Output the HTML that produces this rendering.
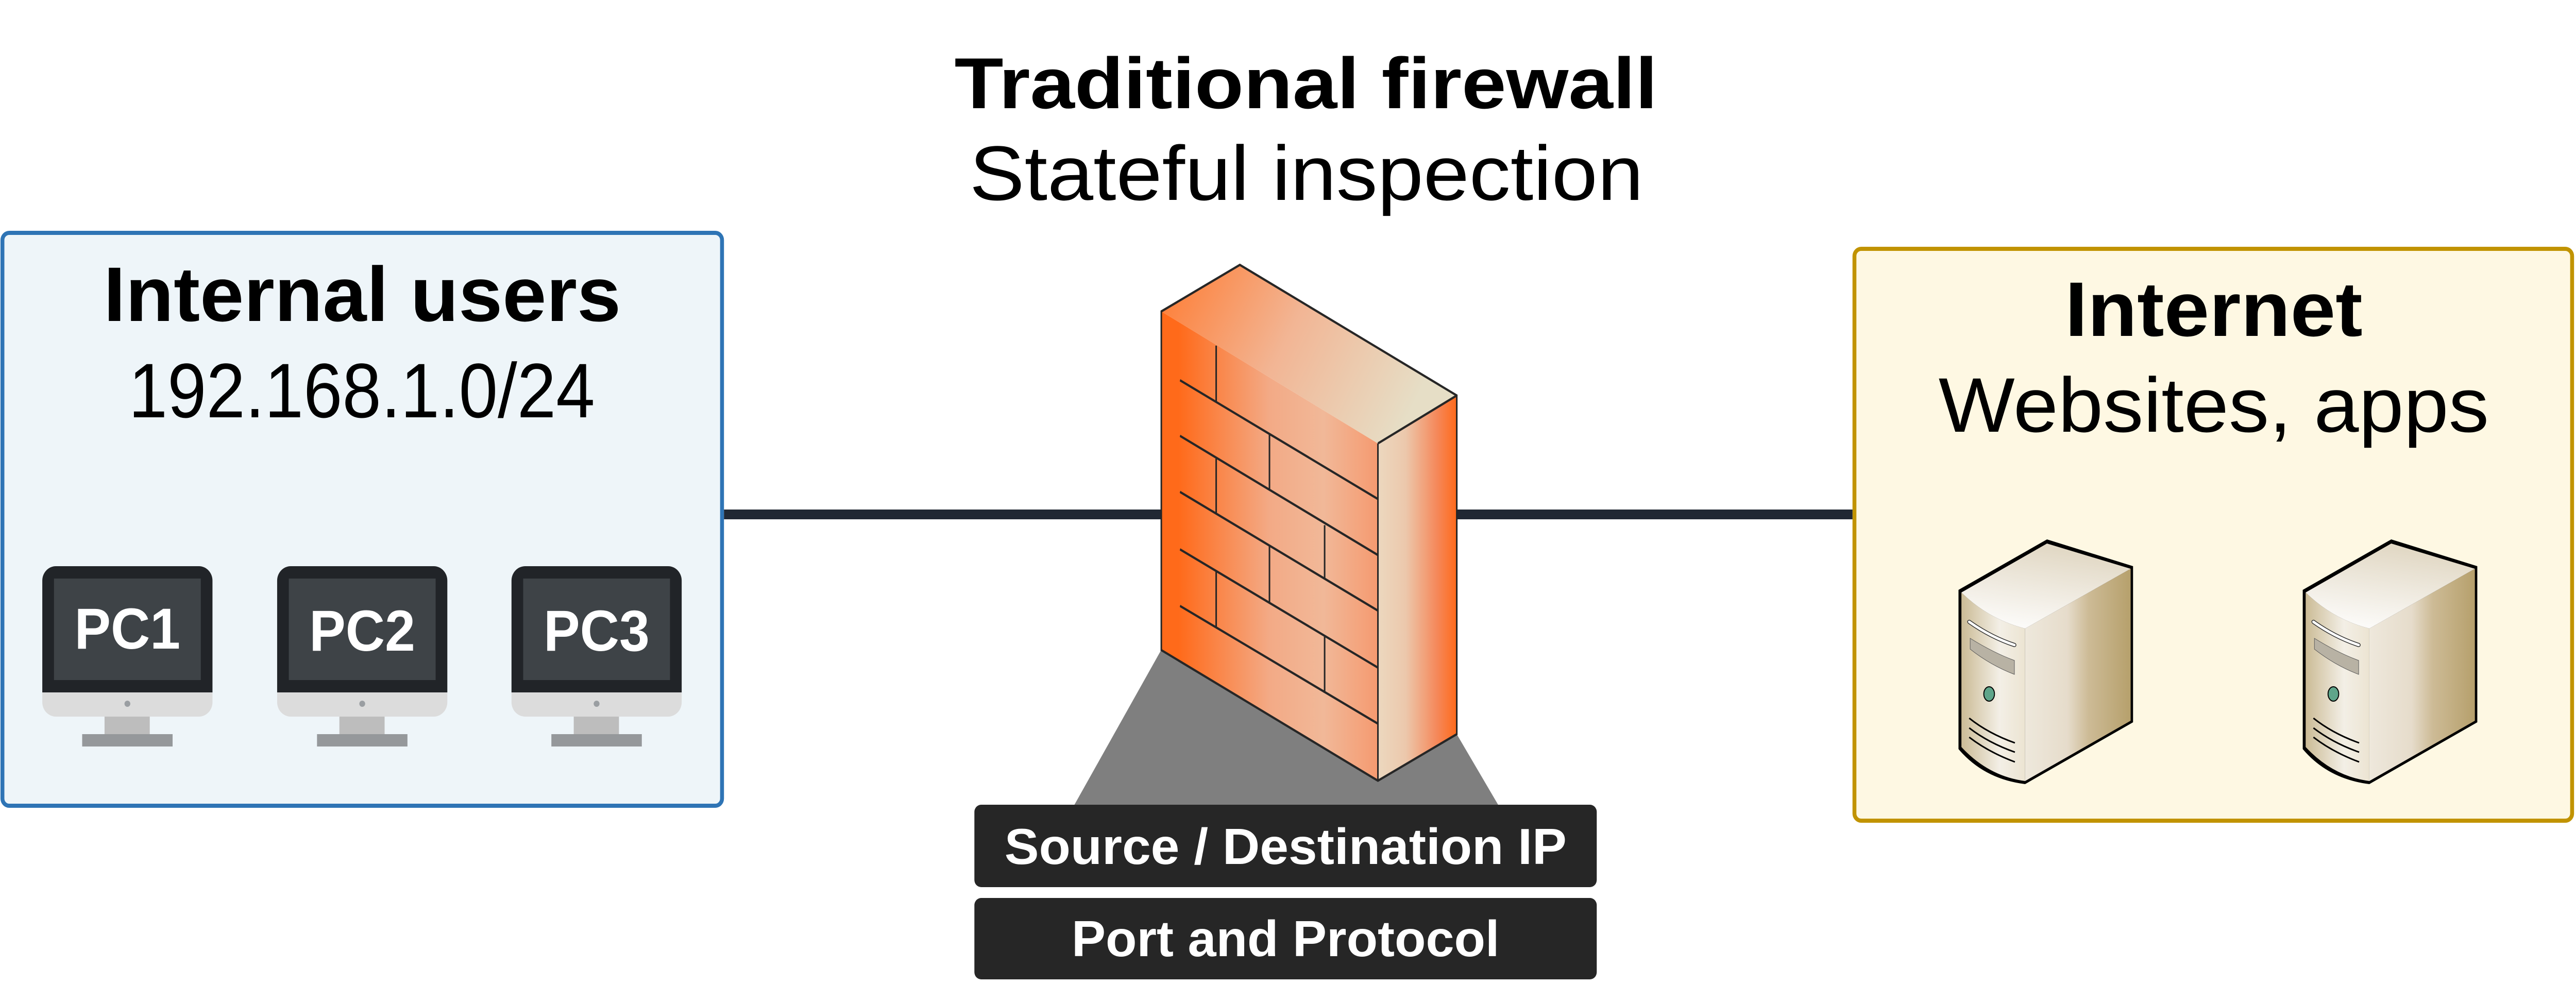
<!DOCTYPE html>
<html><head><meta charset="utf-8"><style>html,body{margin:0;padding:0;background:#fff;width:100%;height:100%;overflow:hidden}svg{display:block;position:fixed;left:0;top:0;width:100vw;height:100vh}</style></head>
<body>
<svg xmlns="http://www.w3.org/2000/svg" viewBox="0 0 5298 1943" preserveAspectRatio="none">
<defs>
<linearGradient id="ff" x1="0" y1="0" x2="1" y2="0">
<stop offset="0" stop-color="#ff6a1a"/><stop offset="0.08" stop-color="#ff6a1a"/><stop offset="0.5" stop-color="#f3aa86"/><stop offset="0.75" stop-color="#f1b898"/><stop offset="1" stop-color="#f59a70"/></linearGradient>
<linearGradient id="fr" x1="0" y1="0" x2="1" y2="0">
<stop offset="0" stop-color="#ecd8bf"/><stop offset="0.35" stop-color="#ecc8ac"/><stop offset="0.75" stop-color="#f5885a"/><stop offset="1" stop-color="#ff6a1a"/></linearGradient>
<linearGradient id="ft" x1="0" y1="0" x2="1" y2="0.3">
<stop offset="0" stop-color="#ff7a30"/><stop offset="0.5" stop-color="#f2b594"/><stop offset="1" stop-color="#e6dec6"/></linearGradient>
<linearGradient id="sf" x1="0" y1="0" x2="1" y2="0">
<stop offset="0" stop-color="#cbbb95"/><stop offset="0.6" stop-color="#f3efe6"/><stop offset="1" stop-color="#ece4d2"/></linearGradient>
<linearGradient id="sr" x1="0" y1="0" x2="1" y2="0">
<stop offset="0" stop-color="#eee8dc"/><stop offset="0.4" stop-color="#e6dccb"/><stop offset="0.6" stop-color="#cdbb96"/><stop offset="1" stop-color="#b6a06c"/></linearGradient>
<linearGradient id="st" x1="0" y1="1" x2="0.3" y2="0">
<stop offset="0" stop-color="#ffffff"/><stop offset="1" stop-color="#e2d9c6"/></linearGradient>
<g id="pc">
<rect x="0" y="0" width="350" height="292" rx="28" fill="#dcdcdc"/>
<path d="M28 0 H322 A28 28 0 0 1 350 28 V245 H0 V28 A28 28 0 0 1 28 0Z" fill="#212428"/>
<rect x="24" y="24" width="302" height="197" fill="#3e4347"/>
<circle cx="175" cy="267" r="6" fill="#9a9ea2"/>
<rect x="128" y="292" width="93" height="34" fill="#bdbdbd"/>
<rect x="82" y="326" width="186" height="24" fill="#95989b"/>
</g>
<g id="srv">
<path d="M48 93 L230 -5 L407 47 L407 350 L185 470 Q100 460 48 402 Z" fill="#000"/>
<path d="M54 98 Q110 150 185 168 L185 464 Q110 455 54 398 Z" fill="url(#sf)"/>
<path d="M185 168 L402 52 L402 347 L185 464 Z" fill="url(#sr)"/>
<path d="M54 98 L230 3 L402 52 L185 168 Q110 150 54 98Z" fill="url(#st)"/>
<path d="M70 155 Q115 185 163 200" stroke="#333" stroke-width="8" stroke-linecap="round" fill="none"/>
<path d="M70 155 Q115 185 163 200" stroke="#fff" stroke-width="5" stroke-linecap="round" fill="none"/>
<path d="M72 187 Q120 215 163 230 L163 257 Q115 240 72 208Z" fill="#b8b2a4" stroke="#555" stroke-width="1"/>
<ellipse cx="111" cy="295" rx="11" ry="14" fill="#5fa58a" stroke="#000" stroke-width="2"/>
<path d="M70 342 Q110 372 164 390 M70 361 Q110 390 164 408 M70 379 Q110 408 164 427" stroke="#000" stroke-width="3" fill="none"/>
</g>
</defs>

<rect x="5" y="452" width="1480" height="1112" rx="14" fill="#eef5f9" stroke="#2e74b5" stroke-width="8"/>
<rect x="3814" y="483" width="1476" height="1110" rx="14" fill="#fef8e3" stroke="#c19300" stroke-width="8"/>

<rect x="1489" y="989" width="2321" height="19" fill="#212833"/>

<g font-family="Liberation Sans, sans-serif" text-anchor="middle">
<text x="2686" y="210" font-size="140" font-weight="bold" textLength="1446" lengthAdjust="spacingAndGlyphs">Traditional firewall</text>
<text x="2687" y="388" font-size="150" textLength="1386" lengthAdjust="spacingAndGlyphs">Stateful inspection</text>
<text x="745" y="623" font-size="150" font-weight="bold" textLength="1064" lengthAdjust="spacingAndGlyphs">Internal users</text>
<text x="744" y="810" font-size="150" textLength="959" lengthAdjust="spacingAndGlyphs">192.168.1.0/24</text>
<text x="4553" y="652" font-size="150" font-weight="bold" textLength="612" lengthAdjust="spacingAndGlyphs">Internet</text>
<text x="4553" y="838" font-size="150" textLength="1132" lengthAdjust="spacingAndGlyphs">Websites, apps</text>
</g>

<use href="#pc" x="87" y="1099"/>
<use href="#pc" x="570" y="1099"/>
<use href="#pc" x="1052" y="1099"/>
<g font-family="Liberation Sans, sans-serif" font-weight="bold" font-size="112" fill="#fff" text-anchor="middle">
<text x="262" y="1259">PC1</text>
<text x="745" y="1263">PC2</text>
<text x="1227" y="1263">PC3</text>
</g>

<use href="#srv" x="3980" y="1052"/>
<use href="#srv" x="4688" y="1052"/>

<polygon points="2388,1262 2208,1565 3083,1565 2996,1425" fill="#7f7f7f"/>
<g transform="translate(2150,480) scale(0.641,0.922)">
<polygon points="372,848 1067,1123 1067,413 372,135" fill="url(#ff)"/>
<polygon points="1067,413 1320,312 1320,1025 1067,1123" fill="url(#fr)"/>
<polygon points="372,135 624,37 1320,312 1067,413" fill="url(#ft)"/>
<g stroke="#262626" stroke-width="5" fill="none">
<polygon points="372,848 1067,1123 1320,1025 1320,312 624,37 372,135"/>
<line x1="1067" y1="413" x2="1067" y2="1123"/>
<line x1="1067" y1="413" x2="1320" y2="312"/>
<line x1="432" y1="280" x2="1067" y2="530"/>
<line x1="432" y1="397" x2="1067" y2="648"/>
<line x1="432" y1="515" x2="1067" y2="765"/>
<line x1="432" y1="636" x2="1067" y2="885"/>
<line x1="432" y1="755" x2="1067" y2="1003"/>
<line x1="548" y1="207" x2="548" y2="325"/>
<line x1="719" y1="393" x2="719" y2="510"/>
<line x1="548" y1="445" x2="548" y2="560"/>
<line x1="896" y1="585" x2="896" y2="697"/>
<line x1="719" y1="628" x2="719" y2="748"/>
<line x1="548" y1="683" x2="548" y2="800"/>
<line x1="896" y1="820" x2="896" y2="938"/>
</g>
</g>

<rect x="2004" y="1562" width="1280" height="160" rx="14" fill="#262626"/>
<rect x="2004" y="1743" width="1280" height="158" rx="14" fill="#262626"/>
<g font-family="Liberation Sans, sans-serif" font-weight="bold" font-size="98" fill="#fff" text-anchor="middle">
<text x="2644" y="1677" textLength="1156" lengthAdjust="spacingAndGlyphs">Source / Destination IP</text>
<text x="2644" y="1856" textLength="880" lengthAdjust="spacingAndGlyphs">Port and Protocol</text>
</g>
</svg>
</body></html>
